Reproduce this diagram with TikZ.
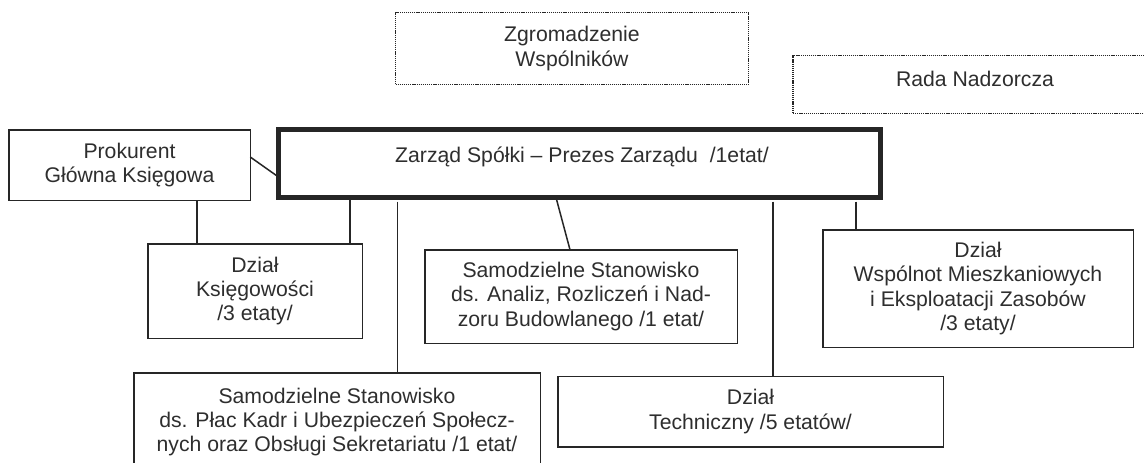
\documentclass[tikz,border=0pt]{standalone}
\usepackage{fontspec}
\setmainfont{Liberation Sans}
\usetikzlibrary{calc}
\definecolor{ink}{HTML}{262626}
\definecolor{txt}{HTML}{2E2E2E}
\tikzset{
  base/.style={inner sep=0pt, outer sep=0pt, align=center, text=txt,
    font=\fontsize{21.2}{24.3}\selectfont},
  box/.style={base, draw=ink, line width=1.5pt, rectangle},
  dotbox/.style={base, draw=ink, line width=1.3pt, dash pattern=on 1.2pt off 0.9pt},
  thickbox/.style={base, draw=ink, line width=5pt},
  txtnode/.style={base},
  conn/.style={draw=ink, line width=1.5pt}
}
\begin{document}
\begin{tikzpicture}[x=1pt,y=-1pt]
\useasboundingbox (0,0) rectangle (1144,463);
\fill[white] (0,0) rectangle (1144,463);
\clip (0,0) rectangle (1144,463);

% boxes
\node[dotbox, minimum width=353pt, minimum height=72pt] (zgrom) at (572,48.5)
  {Zgromadzenie\\Wspólników};
\node[dotbox, minimum width=367pt, minimum height=58pt] (rada) at (976.5,84.5) {};
\node[txtnode] (radatxt) at (975,79) {Rada Nadzorcza};

\node[box, minimum width=241.5pt, minimum height=70.5pt] (prok) at (129.5,165)
  {Prokurent\\Główna Księgowa};

\node[thickbox, minimum width=602pt, minimum height=68pt] (zarzad) at (579.5,163.5) {};
\node[txtnode] (zarzadtxt) at (582,157) {Zarząd Spółki – Prezes Zarządu\ \ /1etat/};

\node[box, minimum width=214.5pt, minimum height=94.5pt] (ksieg) at (255,291)
  {Dział\\Księgowości\\/3 etaty/};
\node[box, minimum width=312.5pt, minimum height=93.5pt] (analiz) at (581,296.5)
  {Samodzielne Stanowisko\\ds. Analiz, Rozliczeń i Nad-\\zoru Budowlanego /1 etat/};
\node[box, minimum width=310.5pt, minimum height=117.5pt] (wspol) at (978,288.5)
  {Dział\\Wspólnot Mieszkaniowych\\ i Eksploatacji Zasobów\\/3 etaty/};
\node[box, minimum width=406.5pt, minimum height=98pt] (plac) at (337,422)
  {Samodzielne Stanowisko\\ds. Płac Kadr i Ubezpieczeń Społecz-\\nych oraz Obsługi Sekretariatu /1 etat/};
\node[box, minimum width=385.5pt, minimum height=70.5pt] (tech) at (750.5,411.5)
  {Dział\\Techniczny /5 etatów/};

% connector x positions
\coordinate (xa) at (197,0);
\coordinate (xb) at (350,0);
\coordinate (xc) at (397.5,0);
\coordinate (xd1) at (556,0);
\coordinate (xd2) at (570,0);
\coordinate (xe) at (773,0);
\coordinate (xf) at (856,0);

% connectors
\draw[conn] ($(prok.east)+(0,-8)$) -- ($(zarzad.west)+(0,13.5)$);
\draw[conn] (xa |- prok.south) -- (xa |- ksieg.north);
\draw[conn] (xb |- zarzad.south) -- (xb |- ksieg.north);
\draw[conn, shorten <=4pt] (xc |- zarzad.south) -- (xc |- plac.north);
\draw[conn] (xd1 |- zarzad.south) -- (xd2 |- analiz.north);
\draw[conn, shorten <=4pt] (xe |- zarzad.south) -- (xe |- tech.north);
\draw[conn, shorten <=4pt] (xf |- zarzad.south) -- (xf |- wspol.north);
\end{tikzpicture}
\end{document}
